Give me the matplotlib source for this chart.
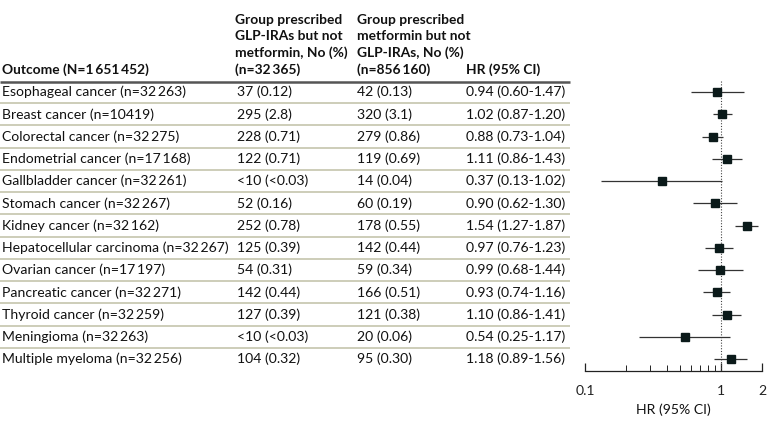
import numpy as np
import matplotlib
matplotlib.use("Agg")
import matplotlib.pyplot as plt
from matplotlib.ticker import FixedLocator, NullFormatter

plt.rcParams['font.family'] = ['Lato', 'DejaVu Sans']

T = "\u2009"

# data
outcomes = ["Esophageal cancer", "Breast cancer", "Colorectal cancer", "Endometrial cancer",
            "Gallbladder cancer", "Stomach cancer", "Kidney cancer", "Hepatocellular carcinoma",
            "Ovarian cancer", "Pancreatic cancer", "Thyroid cancer", "Meningioma", "Multiple myeloma"]
n_outcome = ["32 263", "10419", "32 275", "17 168", "32 261", "32 267", "32 162", "32 267",
             "17 197", "32 271", "32 259", "32 263", "32 256"]
glp_only = ["37 (0.12)", "295 (2.8)", "228 (0.71)", "122 (0.71)", "<10 (<0.03)", "52 (0.16)",
            "252 (0.78)", "125 (0.39)", "54 (0.31)", "142 (0.44)", "127 (0.39)", "<10 (<0.03)",
            "104 (0.32)"]
met_only = ["42 (0.13)", "320 (3.1)", "279 (0.86)", "119 (0.69)", "14 (0.04)", "60 (0.19)",
            "178 (0.55)", "142 (0.44)", "59 (0.34)", "166 (0.51)", "121 (0.38)", "20 (0.06)",
            "95 (0.30)"]
hr = [0.94, 1.02, 0.88, 1.11, 0.37, 0.90, 1.54, 0.97, 0.99, 0.93, 1.10, 0.54, 1.18]
lo = [0.60, 0.87, 0.73, 0.86, 0.13, 0.62, 1.27, 0.76, 0.68, 0.74, 0.86, 0.25, 0.89]
hi = [1.47, 1.20, 1.04, 1.43, 1.02, 1.30, 1.87, 1.23, 1.44, 1.16, 1.41, 1.17, 1.56]

W, H = 780, 432
fig = plt.figure(figsize=(7.8, 4.32), dpi=100)
ax = fig.add_axes([0, 0, 1, 1])
ax.set_xlim(0, W)
ax.set_ylim(H, 0)
ax.axis("off")

fs = 10.1
fh = 9.9
txt = "#111111"
row0, step = 92, 22.25
rows = [row0 + i * step for i in range(len(outcomes))]
col_x = [2, 235, 357, 466]

# header
hb = 76
ax.text(col_x[0], hb, f"Outcome (N=1{T}651{T}452)", fontsize=fh, fontweight="bold",
        color=txt, va="bottom", linespacing=1.4)
ax.text(col_x[1], hb, f"Group prescribed\nGLP-IRAs but not\nmetformin, No (%)\n(n=32{T}365)",
        fontsize=fh, fontweight="bold", color=txt, va="bottom", linespacing=1.4)
ax.text(col_x[2], hb, f"Group prescribed\nmetformin but not\nGLP-IRAs, No (%)\n(n=856{T}160)",
        fontsize=fh, fontweight="bold", color=txt, va="bottom", linespacing=1.4)
ax.text(col_x[3], hb, "HR (95% CI)", fontsize=fh, fontweight="bold", color=txt, va="bottom")
ax.plot([0, 570], [82, 82], color="#555555", lw=1.8, solid_capstyle="butt")

for i, y in enumerate(rows):
    n = n_outcome[i].replace(" ", T)
    ax.text(col_x[0], y, f"{outcomes[i]} (n={n})", fontsize=fs, color=txt, va="center")
    ax.text(col_x[1] + 2, y, glp_only[i], fontsize=fs, color=txt, va="center")
    ax.text(col_x[2], y, met_only[i], fontsize=fs, color=txt, va="center")
    ax.text(col_x[3], y, f"{hr[i]:.2f} ({lo[i]:.2f}-{hi[i]:.2f})", fontsize=fs, color=txt, va="center")
    if i < len(rows) - 1:
        ax.plot([0, 570], [y + step / 2, y + step / 2], color="#c9c9b3", lw=1.3,
                solid_capstyle="butt")

# forest plot
x0, x1, ytop, ybot = 585, 762, 80, 371
fax = fig.add_axes([x0 / W, 1 - ybot / H, (x1 - x0) / W, (ybot - ytop) / H])
fax.set_xscale("log")
fax.set_xlim(0.1, 2)
fax.set_ylim(ybot, ytop)
fax.patch.set_alpha(0)
for s in ["top", "right", "left"]:
    fax.spines[s].set_visible(False)
fax.spines["bottom"].set_color("#222222")
fax.spines["bottom"].set_linewidth(0.9)
fax.set_yticks([])
fax.axvline(1, color="#444444", lw=0.8, ls=(0, (1, 1.5)))
err = [np.array(hr) - np.array(lo), np.array(hi) - np.array(hr)]
fax.errorbar(hr, rows, xerr=err, fmt="s", color="#0b1a1a", ecolor="#333333",
             elinewidth=0.9, markersize=6, capsize=0)
fax.xaxis.set_major_locator(FixedLocator([0.1, 1, 2]))
fax.set_xticklabels(["0.1", "1", "2"])
fax.xaxis.set_minor_locator(FixedLocator([0.2, 0.3, 0.4, 0.5, 0.6, 0.7, 0.8, 0.9]))
fax.xaxis.set_minor_formatter(NullFormatter())
fax.tick_params(axis="x", which="major", direction="in", length=6, width=0.9,
                labelsize=fs, colors="#222222", pad=10)
fax.tick_params(axis="x", which="minor", direction="in", length=4, width=0.7, colors="#222222")
fax.set_xlabel("HR (95% CI)", fontsize=fs, color=txt, labelpad=5)

fig.savefig("out.png", dpi=100)
